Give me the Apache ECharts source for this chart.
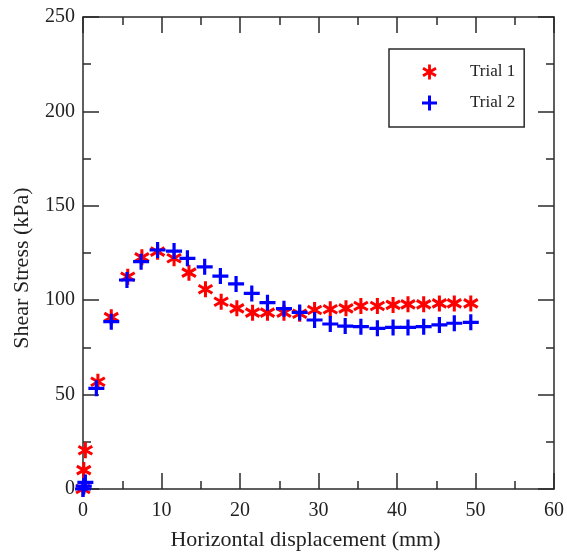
<!DOCTYPE html>
<html>
<head>
<meta charset="utf-8">
<script src="https://cdn.jsdelivr.net/npm/echarts@6/dist/echarts.min.js"></script>
<style>html,body{margin:0;padding:0;background:#fff;}#c{width:567px;height:558px;}</style>
</head>
<body>
<div id="c"></div>
<script>
const seriesNames = ['Trial 1', 'Trial 2'];
const xTrial1 = [0, 0.1, 0.3, 1.9, 3.6, 5.7, 7.5, 9.5, 11.6, 13.5, 15.6, 17.6, 19.6, 21.6, 23.5, 25.6, 27.6, 29.5, 31.5, 33.5, 35.4, 37.5, 39.5, 41.4, 43.4, 45.4, 47.3, 49.4];
const yTrial1 = [0, 10, 20.5, 56.8, 91, 112.4, 122.7, 125.7, 122.2, 114.6, 105.8, 99.2, 95.7, 93.4, 93.4, 93.4, 92.8, 94.8, 95.2, 95.7, 96.9, 96.9, 97.5, 97.8, 97.8, 98.3, 98.3, 98.3];
const xTrial2 = [0, 0.1, 0.3, 1.7, 3.6, 5.6, 7.4, 9.5, 11.6, 13.3, 15.5, 17.5, 19.5, 21.5, 23.5, 25.6, 27.6, 29.5, 31.5, 33.4, 35.4, 37.5, 39.5, 41.4, 43.4, 45.4, 47.3, 49.4];
const yTrial2 = [0, 1.5, 3.5, 53.3, 88.6, 110.7, 120.4, 126.6, 126, 122.2, 117.7, 112.8, 108.6, 103.6, 98.7, 95.5, 93.5, 89.5, 87.4, 86.3, 86, 85.1, 85.6, 85.6, 86, 86.9, 87.8, 88.3];
const xTicks = [0, 10, 20, 30, 40, 50, 60];
const yTicks = [0, 50, 100, 150, 200, 250];

const FONT = 'Liberation Serif';
const FRAME = '#2a2a2a';
const starPath = 'path://M-0.19,-1L0.19,-1L0.19,1L-0.19,1Z' +
  'M0.771,-0.665L0.961,-0.335L-0.771,0.665L-0.961,0.335Z' +
  'M-0.961,-0.335L-0.771,-0.665L0.961,0.335L0.771,0.665Z';
const plusPath = 'path://M-0.2,-1L0.2,-1L0.2,1L-0.2,1Z M-1,-0.2L1,-0.2L1,0.2L-1,0.2Z';

function axisCommon(min, max, ticks, showLabels) {
  return {
    min: min, max: max, interval: ticks[1] - ticks[0],
    axisLine: { show: true, onZero: false, lineStyle: { color: FRAME, width: 1.5 } },
    axisTick: { show: true, inside: true, length: 16, lineStyle: { color: FRAME, width: 1.5 } },
    minorTick: { show: true, splitNumber: 2, length: 8, lineStyle: { color: FRAME, width: 1.5 } },
    splitLine: { show: false },
    minorSplitLine: { show: false },
    axisLabel: { show: showLabels, fontFamily: FONT, fontSize: 20, color: '#222' }
  };
}

const chart = echarts.init(document.getElementById('c'), null, { renderer: 'canvas' });
chart.setOption({
  backgroundColor: '#fff',
  animation: false,
  grid: { left: 83, right: 13, top: 17, bottom: 69 },
  legend: {
    data: seriesNames,
    orient: 'vertical',
    left: 389, top: 49,
    padding: [13, 9, 14, 33],
    itemWidth: 15, itemHeight: 15, itemGap: 11,
    borderColor: FRAME, borderWidth: 1.5,
    textStyle: { fontFamily: FONT, fontSize: 17, color: '#222', padding: [0, 0, 0, 28], lineHeight: 20 }
  },
  xAxis: [
    Object.assign(axisCommon(0, 60, xTicks, true), {
      type: 'value', position: 'bottom',
      name: 'Horizontal displacement (mm)', nameLocation: 'middle', nameGap: 40,
      nameTextStyle: { fontFamily: FONT, fontSize: 22, color: '#222', padding: [0, 26, 0, 0] },
      axisLabel: { show: true, fontFamily: FONT, fontSize: 20, color: '#222', margin: 12 }
    }),
    Object.assign(axisCommon(0, 60, xTicks, false), { type: 'value', position: 'top' })
  ],
  yAxis: [
    Object.assign(axisCommon(0, 250, yTicks, true), {
      type: 'value', position: 'left',
      name: 'Shear Stress (kPa)', nameLocation: 'middle', nameGap: 50,
      nameTextStyle: { fontFamily: FONT, fontSize: 22, color: '#222', padding: [0, 30, 0, 0] },
      axisLabel: { show: true, fontFamily: FONT, fontSize: 20, color: '#222', margin: 8 }
    }),
    Object.assign(axisCommon(0, 250, yTicks, false), { type: 'value', position: 'right' })
  ],
  series: [
    {
      name: seriesNames[0], type: 'scatter', xAxisIndex: 0, yAxisIndex: 0,
      symbol: starPath, symbolSize: 16, symbolKeepAspect: true,
      itemStyle: { color: '#ff0000', opacity: 1 },
      data: xTrial1.map((x, i) => [x, yTrial1[i]]),
      z: 3
    },
    {
      name: seriesNames[1], type: 'scatter', xAxisIndex: 0, yAxisIndex: 0,
      symbol: plusPath, symbolSize: 16, symbolKeepAspect: true,
      itemStyle: { color: '#0000ff', opacity: 1 },
      data: xTrial2.map((x, i) => [x, yTrial2[i]]),
      z: 4
    }
  ]
});
</script>
</body>
</html>
